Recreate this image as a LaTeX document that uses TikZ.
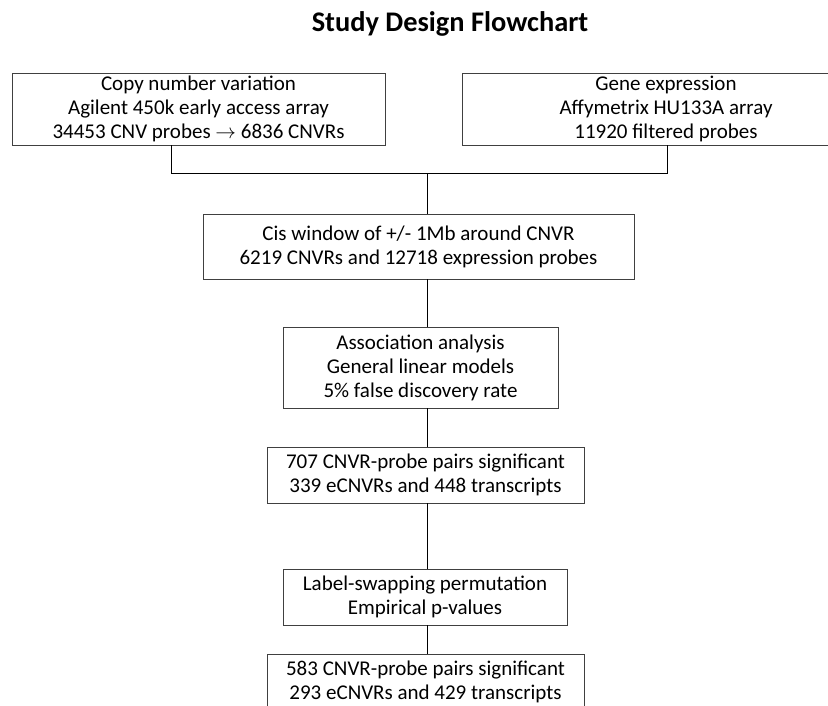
\documentclass[tikz,border=0pt]{standalone}
\usepackage{fontspec}
\setmainfont{Carlito}
\usepackage{tikz}

\begin{document}
\begin{tikzpicture}[x=1bp,y=-1bp,
  box/.style={draw=black!75,line width=0.8bp,inner sep=0pt,align=center,
    font=\fontsize{21bp}{24bp}\selectfont},
  link/.style={black,line width=1bp}]
\def \T {427}

% page frame
\clip (0,0) rectangle (828,706);

% title
\node[font=\fontsize{28.4bp}{32bp}\selectfont\bfseries] (title) at (450,24) {Study Design Flowchart};

% input boxes
\node[box,minimum width=373bp,minimum height=72bp] (cnv) at (198.5,109)
  {Copy number variation\\Agilent 450k early access array\\34453 CNV probes $\rightarrow$ 6836 CNVRs};
\node[box,minimum width=408bp,minimum height=72bp] (expr) at (666,109)
  {Gene expression\\Affymetrix HU133A array\\11920 filtered probes};

% analysis steps
\node[box,minimum width=431bp,minimum height=65bp] (cis) at (418.5,246.5)
  {Cis window of +/- 1Mb around CNVR\\6219 CNVRs and 12718 expression probes};
\node[box,minimum width=275bp,minimum height=81bp] (assoc) at (420.5,367.5)
  {Association analysis\\General linear models\\5\% false discovery rate};
\node[box,minimum width=317bp,minimum height=56bp] (sig1) at (425.5,475)
  {707 CNVR-probe pairs significant\\339 eCNVRs and 448 transcripts};
\node[box,minimum width=284bp,minimum height=56bp] (perm) at (425,597)
  {Label-swapping permutation\\Empirical p-values};
\node[box,minimum width=317bp,minimum height=56bp] (sig2) at (425.5,682)
  {583 CNVR-probe pairs significant\\293 eCNVRs and 429 transcripts};

% join the two inputs
\coordinate (jl) at (171,173);
\coordinate (jr) at (667,173);
\coordinate (jm) at (\T,173);
\draw[link] (cnv.south -| jl) -- (jl) -- (jr) -- (expr.south -| jr);
\draw[link] (jm) -- (cis.north -| jm);

% trunk
\foreach \a/\b in {cis/assoc,assoc/sig1,sig1/perm,perm/sig2}
{
\draw[link] (\a.south -| jm) -- (\b.north -| jm);
}

\end{tikzpicture}
\end{document}
